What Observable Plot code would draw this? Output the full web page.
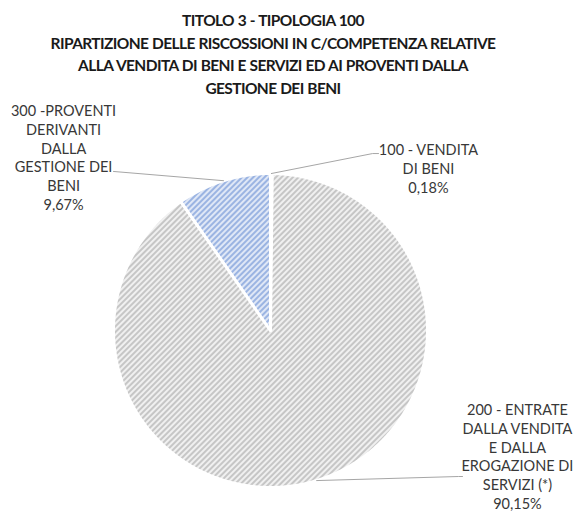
<!DOCTYPE html>
<html><head><meta charset="utf-8">
<script src="https://cdn.jsdelivr.net/npm/d3@7"></script>
<script src="https://cdn.jsdelivr.net/npm/@observablehq/plot@0.6"></script>
<style>
body{margin:0;background:#fff;font-family:Lato,"Open Sans",sans-serif;}
#title{width:573px;height:100px;box-sizing:border-box;padding-top:9px;padding-right:27px;text-align:center;font-weight:bold;font-size:15.5px;letter-spacing:-0.6px;word-spacing:0.5px;line-height:22.7px;color:#1a1a1a;}
#chart svg{display:block;}
</style></head><body>
<div id="title"></div><div id="chart"></div>
<script>
const titleLines = [
  "TITOLO 3 - TIPOLOGIA 100",
  "RIPARTIZIONE DELLE RISCOSSIONI IN C/COMPETENZA RELATIVE",
  "ALLA VENDITA DI BENI E SERVIZI ED AI PROVENTI DALLA",
  "GESTIONE DEI BENI"
];
const categories = ["100", "200", "300"];
const labelTexts = [
  "100 - VENDITA\nDI BENI",
  "200 - ENTRATE\nDALLA VENDITA\nE DALLA\nEROGAZIONE DI\nSERVIZI (*)",
  "300 -PROVENTI\nDERIVANTI\nDALLA\nGESTIONE DEI\nBENI"
];
const percentLabels = ["0,18%", "90,15%", "9,67%"];
const values = [0.18, 90.15, 9.67];
const fills = ["url(#hatchGray)", "url(#hatchGray)", "url(#hatchBlue)"];

// layout (unit-circle coordinates): label centres and leader elbow points
const labelPos = [[1.006, 1.035], [1.573, -0.80], [-1.318, 1.105]];
const leaderElbow = [[[0.650, 1.127], [0.688, 1.127]], [[1.197, -0.930], [1.223, -0.930]], [[-1.0, 1.013]]];

document.getElementById("title").innerHTML = titleLines.join("<br>");

const arcs = d3.pie().sort(null).value(d => d)(values);
const marks = [];
arcs.forEach((a, i) => {
  const n = Math.max(2, Math.ceil((a.endAngle - a.startAngle) / 0.01) + 1);
  const pts = [{x: 0, y: 0}];
  for (let k = 0; k < n; k++) {
    const t = a.startAngle + (a.endAngle - a.startAngle) * k / (n - 1);
    pts.push({x: Math.sin(t), y: Math.cos(t)});
  }
  pts.push({x: 0, y: 0});
  marks.push(Plot.line(pts, {x: "x", y: "y", fill: fills[i], stroke: "white", strokeWidth: 3, strokeLinejoin: "round", curve: "linear"}));
});
// leader lines
arcs.forEach((a, i) => {
  const m = (a.startAngle + a.endAngle) / 2;
  const pts = [{x: Math.sin(m), y: Math.cos(m)}].concat(leaderElbow[i].map(([x, y]) => ({x, y})));
  marks.push(Plot.line(pts, {x: "x", y: "y", stroke: "#a6a6a6", strokeWidth: 1}));
});
const labelData = categories.map((c, i) => ({x: labelPos[i][0], y: labelPos[i][1], text: labelTexts[i] + "\n" + percentLabels[i]}));
marks.push(Plot.text(labelData, {x: "x", y: "y", text: "text", lineHeight: 1.29, fontSize: 14.5, fill: "#383838"}));

const svg = Plot.plot({
  width: 573, height: 415,
  marginLeft: 113, marginRight: 146, marginTop: 73, marginBottom: 28,
  x: {domain: [-1, 1], axis: null},
  y: {domain: [-1, 1], axis: null},
  style: {fontFamily: "Lato, 'Open Sans', sans-serif", background: "white"},
  marks
});
const defs = d3.select(svg).insert("defs", ":first-child");
function hatch(id, light, dark) {
  const p = defs.append("pattern").attr("id", id).attr("patternUnits", "userSpaceOnUse")
    .attr("width", 4).attr("height", 4).attr("patternTransform", "rotate(45)");
  p.append("rect").attr("width", 4).attr("height", 4).attr("fill", light);
  p.append("rect").attr("width", 2).attr("height", 4).attr("fill", dark);
}
hatch("hatchGray", "#f0f0f0", "#c6c6c6");
hatch("hatchBlue", "#dfe7f6", "#9bb4e2");
document.getElementById("chart").appendChild(svg);
</script>
</body></html>
